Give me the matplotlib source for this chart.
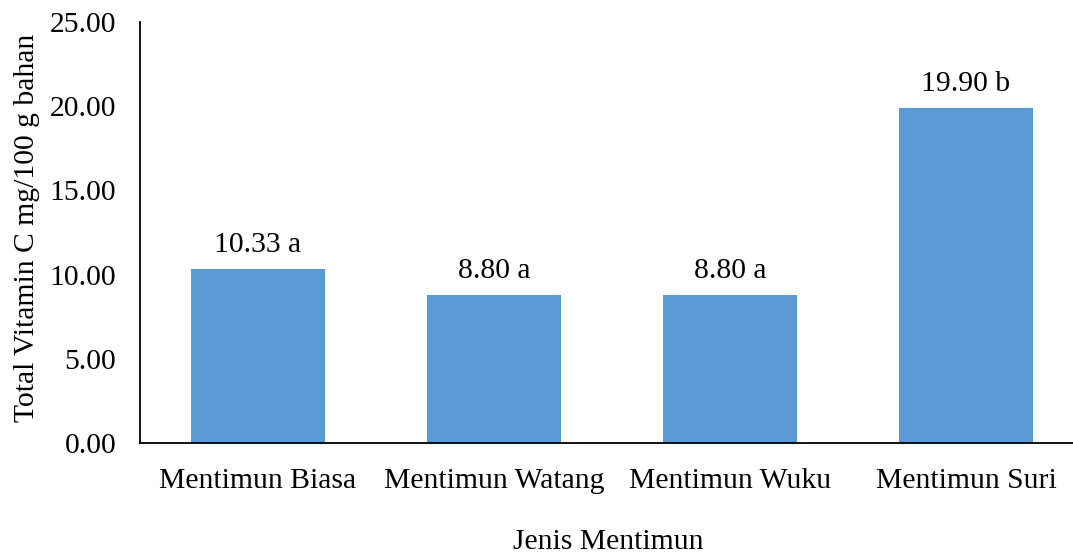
import matplotlib
matplotlib.use("Agg")
import matplotlib.pyplot as plt

categories = ["Mentimun Biasa", "Mentimun Watang", "Mentimun Wuku", "Mentimun Suri"]
values = [10.33, 8.80, 8.80, 19.90]
letters = ["a", "a", "a", "b"]
yticks = [0, 5, 10, 15, 20, 25]

plt.rcParams["font.family"] = ["Liberation Serif", "DejaVu Serif"]

FS = 21.3
W, H = 1073, 554
fig = plt.figure(figsize=(W / 100, H / 100), dpi=100)
left, right, bottom, top = 140, 1084, 443, 22
ax = fig.add_axes([left / W, 1 - bottom / H, (right - left) / W, (bottom - top) / H])

x = range(len(categories))
ax.bar(x, values, width=0.57, color="#5B9BD5", zorder=2)
for xi, v, l in zip(x, values, letters):
    ax.annotate(f"{v:.2f} {l}", (xi, v), xytext=(0, 8), textcoords="offset points",
                ha="center", va="bottom", fontsize=FS)

ax.set_xlim(-0.5, len(categories) - 0.5)
ax.set_ylim(0, 25)
ax.set_yticks(yticks)
ax.set_yticklabels([f"{t:.2f}" for t in yticks], fontsize=FS)
ax.set_xticks(list(x))
ax.set_xticklabels(categories, fontsize=FS)
ax.tick_params(axis="y", length=0, pad=17)
ax.tick_params(axis="x", length=0, pad=18)

for s in ["top", "right"]:
    ax.spines[s].set_visible(False)
for s in ["left", "bottom"]:
    ax.spines[s].set_linewidth(1.3)
    ax.spines[s].set_color("black")

fig.text(27 / W, 1 - 228 / H, "Total Vitamin C mg/100 g bahan", rotation=90,
         ha="center", va="center", fontsize=FS)
fig.text(608 / W, 1 - 542 / H, "Jenis Mentimun", ha="center", va="center", fontsize=FS)

fig.savefig("out.png", dpi=100)
